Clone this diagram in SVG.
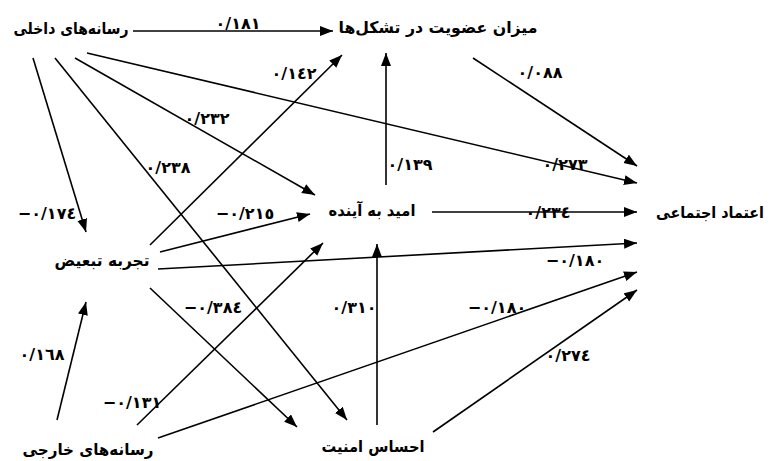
<svg xmlns="http://www.w3.org/2000/svg" width="779" height="461" viewBox="0 0 779 461">
<style>
.node{font-family:"DejaVu Sans","Noto Sans",sans-serif;font-size:16px;font-weight:bold;fill:#000;text-anchor:middle}
.num{font-family:"DejaVu Sans","Noto Sans",sans-serif;font-size:16px;font-weight:bold;fill:#000;text-anchor:middle;direction:ltr;unicode-bidi:bidi-override}
.e{stroke:#000;stroke-width:1.6;fill:none;marker-end:url(#ah)}
</style>
<defs>
<marker id="ah" markerUnits="userSpaceOnUse" markerWidth="14" markerHeight="12" refX="13" refY="5" orient="auto">
<path d="M0,0 L13,5 L0,10 Z" fill="#000"/>
</marker>
</defs>
<rect width="779" height="461" fill="#fff"/>
<g id="connectors">
<line class="e" x1="133" y1="31" x2="333" y2="31"/>
<line class="e" x1="33" y1="58" x2="86" y2="232"/>
<line class="e" x1="55" y1="58" x2="347" y2="420"/>
<line class="e" x1="75" y1="58" x2="315" y2="195"/>
<line class="e" x1="87" y1="53" x2="637" y2="183"/>
<line class="e" x1="473" y1="58" x2="637" y2="166"/>
<line class="e" x1="386" y1="185" x2="386" y2="53"/>
<line class="e" x1="150" y1="245" x2="342" y2="55"/>
<line class="e" x1="160" y1="252" x2="310" y2="214"/>
<line class="e" x1="158" y1="269" x2="637" y2="243"/>
<line class="e" x1="150" y1="288" x2="297" y2="427"/>
<line class="e" x1="57" y1="420" x2="86" y2="302"/>
<line class="e" x1="137" y1="425" x2="323" y2="243"/>
<line class="e" x1="158" y1="438" x2="637" y2="272"/>
<line class="e" x1="433" y1="432" x2="637" y2="290"/>
<line class="e" x1="377" y1="425" x2="377" y2="244"/>
<line class="e" x1="432" y1="212" x2="637" y2="212"/>
</g>
<g id="labels">
<text class="num" x="238" y="29">٠/١٨١</text>
<text class="num" x="294" y="79">٠/١٤٢</text>
<text class="num" x="207" y="124">٠/٢٣٢</text>
<text class="num" x="168" y="173">٠/٢٣٨</text>
<text class="num" x="47" y="219">−٠/١٧٤</text>
<text class="num" x="245" y="219">−٠/٢١٥</text>
<text class="num" x="410" y="170">٠/١٣٩</text>
<text class="num" x="540" y="78">٠/٠٨٨</text>
<text class="num" x="565" y="170">٠/٢٧٣</text>
<text class="num" x="548" y="218">٠/٢٣٤</text>
<text class="num" x="575" y="266">−٠/١٨٠</text>
<text class="num" x="213" y="313">−٠/٣٨٤</text>
<text class="num" x="354" y="313">٠/٣١٠</text>
<text class="num" x="497" y="313">−٠/١٨٠</text>
<text class="num" x="568" y="361">٠/٢٧٤</text>
<text class="num" x="42" y="360">٠/١٦٨</text>
<text class="num" x="132" y="408">−٠/١٣١</text>
</g>
<g id="node-domestic"><text class="node" x="71" y="34" textLength="115" lengthAdjust="spacingAndGlyphs">رسانه‌های داخلی</text></g>
<g id="node-membership"><text class="node" x="438" y="33" textLength="199" lengthAdjust="spacingAndGlyphs">میزان عضویت در تشکل‌ها</text></g>
<g id="node-hope"><text class="node" x="372" y="216" textLength="87" lengthAdjust="spacingAndGlyphs">امید به آینده</text></g>
<g id="node-trust"><text class="node" x="710" y="218" textLength="108" lengthAdjust="spacingAndGlyphs">اعتماد اجتماعی</text></g>
<g id="node-discrimination"><text class="node" x="102" y="266" textLength="95" lengthAdjust="spacingAndGlyphs">تجربه تبعیض</text></g>
<g id="node-foreign"><text class="node" x="88" y="455" textLength="131" lengthAdjust="spacingAndGlyphs">رسانه‌های خارجی</text></g>
<g id="node-security"><text class="node" x="373" y="452" textLength="103" lengthAdjust="spacingAndGlyphs">احساس امنیت</text></g>
</svg>
